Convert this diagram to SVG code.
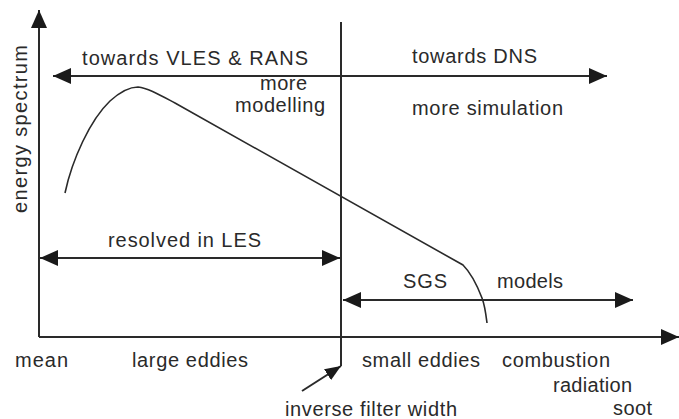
<svg xmlns="http://www.w3.org/2000/svg" width="679" height="419" viewBox="0 0 679 419">
<style>
text{font-family:"Liberation Sans",Arial,sans-serif;font-size:20px;fill:#2a2a2a}
.ln{stroke:#2a2a2a;stroke-width:2;fill:none}
.cv{stroke:#2a2a2a;stroke-width:1.6;fill:none}
</style>
<defs>
<marker id="ah" viewBox="0 0 18 16" refX="18" refY="8" markerWidth="18" markerHeight="16" markerUnits="userSpaceOnUse" orient="auto-start-reverse">
<path d="M0,0 L18,8 L0,16 Z" fill="#1a1a1a"/>
</marker>
<marker id="as" viewBox="0 0 16 13" refX="16" refY="6.5" markerWidth="16" markerHeight="13" markerUnits="userSpaceOnUse" orient="auto">
<path d="M0,0 L16,6.5 L0,13 Z" fill="#1a1a1a"/>
</marker>
</defs>
<rect width="679" height="419" fill="#fff"/>
<g id="connectors">
<line class="ln" x1="39" y1="337" x2="39" y2="10" marker-end="url(#ah)"/>
<line class="ln" x1="39" y1="337" x2="679" y2="337" marker-end="url(#ah)"/>
<line class="ln" x1="341" y1="22" x2="341" y2="366"/>
<line class="ln" x1="53" y1="76" x2="607" y2="76" marker-start="url(#ah)" marker-end="url(#ah)"/>
<line class="ln" x1="40" y1="258" x2="340" y2="258" marker-start="url(#ah)" marker-end="url(#ah)"/>
<line class="ln" x1="343" y1="300" x2="633" y2="300" marker-start="url(#ah)" marker-end="url(#ah)"/>
<line class="ln" x1="302" y1="391" x2="341" y2="366" marker-end="url(#as)"/>
</g>
<g id="curve">
<path class="cv" d="M65,193 C72,160 90,120 110,101 C120,92 130,87 138,87 C148,88 160,95 175,103 L463,265 C470,272 477,285 482,298 C485,306 486,315 487,323"/>
</g>
<g id="labels">
<text transform="translate(27,213) rotate(-90)" textLength="168" lengthAdjust="spacing">energy spectrum</text>
<text x="82" y="65" textLength="226" lengthAdjust="spacing">towards VLES &amp; RANS</text>
<text x="260" y="90" textLength="47" lengthAdjust="spacing">more</text>
<text x="235" y="112" textLength="90" lengthAdjust="spacing">modelling</text>
<text x="412" y="63" textLength="125" lengthAdjust="spacing">towards DNS</text>
<text x="412" y="115" textLength="151" lengthAdjust="spacing">more simulation</text>
<text x="108" y="247" textLength="153" lengthAdjust="spacing">resolved in LES</text>
<text x="403" y="288" textLength="44" lengthAdjust="spacing">SGS</text>
<text x="497" y="288" textLength="66" lengthAdjust="spacing">models</text>
<text x="15" y="367" textLength="53" lengthAdjust="spacing">mean</text>
<text x="132" y="367" textLength="116" lengthAdjust="spacing">large eddies</text>
<text x="362" y="367" textLength="118" lengthAdjust="spacing">small eddies</text>
<text x="502" y="367" textLength="108" lengthAdjust="spacing">combustion</text>
<text x="553" y="392" textLength="79" lengthAdjust="spacing">radiation</text>
<text x="613" y="415" textLength="39" lengthAdjust="spacing">soot</text>
<text x="285" y="416" textLength="172" lengthAdjust="spacing">inverse filter width</text>
</g>
</svg>
